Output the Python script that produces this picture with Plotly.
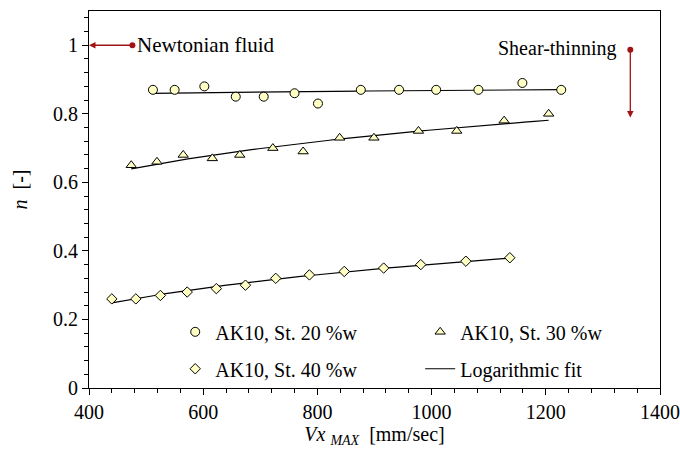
import numpy as np
import plotly.graph_objects as go

# ---- data ----
x20 = [512, 550, 602, 657, 706, 760, 801, 876, 943, 1008, 1082, 1159, 1227]
n20 = [0.87, 0.87, 0.88, 0.85, 0.85, 0.86, 0.83, 0.87, 0.87, 0.87, 0.87, 0.89, 0.87]
x30 = [474, 519, 565, 616, 664, 722, 775, 839, 899, 977, 1044, 1127, 1205]
n30 = [0.65, 0.66, 0.68, 0.67, 0.68, 0.70, 0.69, 0.73, 0.73, 0.75, 0.75, 0.78, 0.80]
x40 = [440, 482, 525, 572, 623, 674, 727, 786, 847, 916, 981, 1060, 1137]
n40 = [0.26, 0.26, 0.27, 0.28, 0.29, 0.30, 0.32, 0.33, 0.34, 0.35, 0.36, 0.37, 0.38]

names = ["AK10, St. 20 %w", "AK10, St. 30 %w", "AK10, St. 40 %w", "Logarithmic fit"]

# annotation anchor points (data coords)
newton_tail = (476, 1.0)
newton_head = (400, 1.0)
shear_tail = (1348, 0.987)
shear_head = (1348, 0.789)
shear_text = (1326, 0.991)

FONT = "Liberation Serif"
FS = 20
FILL = "#FFFFC4"
RED = "#A01414"

fig = go.Figure()

series = [
    (x20, n20, "circle", 9, names[0], "legend"),
    (x30, n30, "triangle-up", 9, names[1], "legend2"),
    (x40, n40, "diamond", 8, names[2], "legend3"),
]

# fits first (drawn beneath markers)
for i, (xs, ys, sym, sz, nm, lg) in enumerate(series):
    a, b = np.polyfit(np.log(xs), ys, 1)
    xf = np.linspace(min(xs), max(xs), 60)
    fig.add_trace(go.Scatter(
        x=xf, y=a * np.log(xf) + b, mode="lines",
        line=dict(color="black", width=1.2),
        name=names[3], legend="legend4",
        showlegend=(i == 0),
    ))

for xs, ys, sym, sz, nm, lg in series:
    fig.add_trace(go.Scatter(
        x=xs, y=ys, mode="markers", name=nm, legend=lg,
        marker=dict(symbol=sym, size=sz, color=FILL,
                    line=dict(color="black", width=1)),
    ))

# dots at arrow tails
fig.add_trace(go.Scatter(
    x=[newton_tail[0], shear_tail[0]], y=[newton_tail[1], shear_tail[1]],
    mode="markers", marker=dict(color=RED, size=6), showlegend=False,
    hoverinfo="skip", cliponaxis=False,
))

fig.add_annotation(x=newton_head[0], y=newton_head[1], ax=newton_tail[0], ay=newton_tail[1],
                   axref="x", ayref="y", xref="x", yref="y", text="", showarrow=True,
                   arrowhead=2, arrowsize=1, arrowwidth=1.3, arrowcolor=RED)
fig.add_annotation(x=shear_head[0], y=shear_head[1], ax=shear_tail[0], ay=shear_tail[1],
                   axref="x", ayref="y", xref="x", yref="y", text="", showarrow=True,
                   arrowhead=2, arrowsize=1, arrowwidth=1.3, arrowcolor=RED)
fig.add_annotation(x=newton_tail[0], y=newton_tail[1], text="Newtonian fluid",
                   showarrow=False, xanchor="left", xshift=3,
                   font=dict(family=FONT, size=21, color="black"))
fig.add_annotation(x=shear_text[0], y=shear_text[1], text="Shear-thinning",
                   showarrow=False, xanchor="right",
                   font=dict(family=FONT, size=FS, color="black"))

axis_common = dict(
    showline=True, linecolor="black", linewidth=1, mirror=True,
    ticks="outside", ticklen=6, tickwidth=1, tickcolor="black",
    showgrid=False, zeroline=False, automargin=False,
    tickfont=dict(family=FONT, size=FS, color="black"),
)

fig.update_xaxes(range=[400, 1400], dtick=200, tick0=400,
                 minor=dict(dtick=40, ticks="outside", ticklen=4, tickcolor="black", showgrid=False),
                 title=dict(text="<i>Vx</i> <sub><i>MAX</i></sub>&nbsp; [mm/sec]",
                            font=dict(family=FONT, size=FS, color="black"), standoff=3),
                 **axis_common)
fig.update_yaxes(range=[0, 1.1], tickvals=[0, 0.2, 0.4, 0.6, 0.8, 1],
                 ticktext=["0", "0.2", "0.4", "0.6", "0.8", "1"],
                 minor=dict(dtick=0.04, tick0=0, ticks="outside", ticklen=4, tickcolor="black", showgrid=False),
                 title=dict(text="&nbsp;&nbsp;&nbsp;&nbsp;<i>n</i>&nbsp; [-]",
                            font=dict(family=FONT, size=FS, color="black"), standoff=20),
                 **axis_common)

legend_common = dict(
    xanchor="left", yanchor="middle", itemwidth=30,
    bgcolor="rgba(0,0,0,0)", borderwidth=0,
    font=dict(family=FONT, size=FS, color="black"),
)

col1, col2 = 0.151, 0.580
row1, row2 = 0.149, 0.051

fig.update_layout(
    width=680, height=455,
    margin=dict(l=89, r=20, t=11, b=67),
    paper_bgcolor="white", plot_bgcolor="white",
    font=dict(family=FONT, size=FS, color="black"),
    legend=dict(x=col1, y=row1, **legend_common),
    legend2=dict(x=col2, y=row1, **legend_common),
    legend3=dict(x=col1, y=row2, **legend_common),
    legend4=dict(x=col2, y=row2, **legend_common),
)

fig.write_html("out.html")
